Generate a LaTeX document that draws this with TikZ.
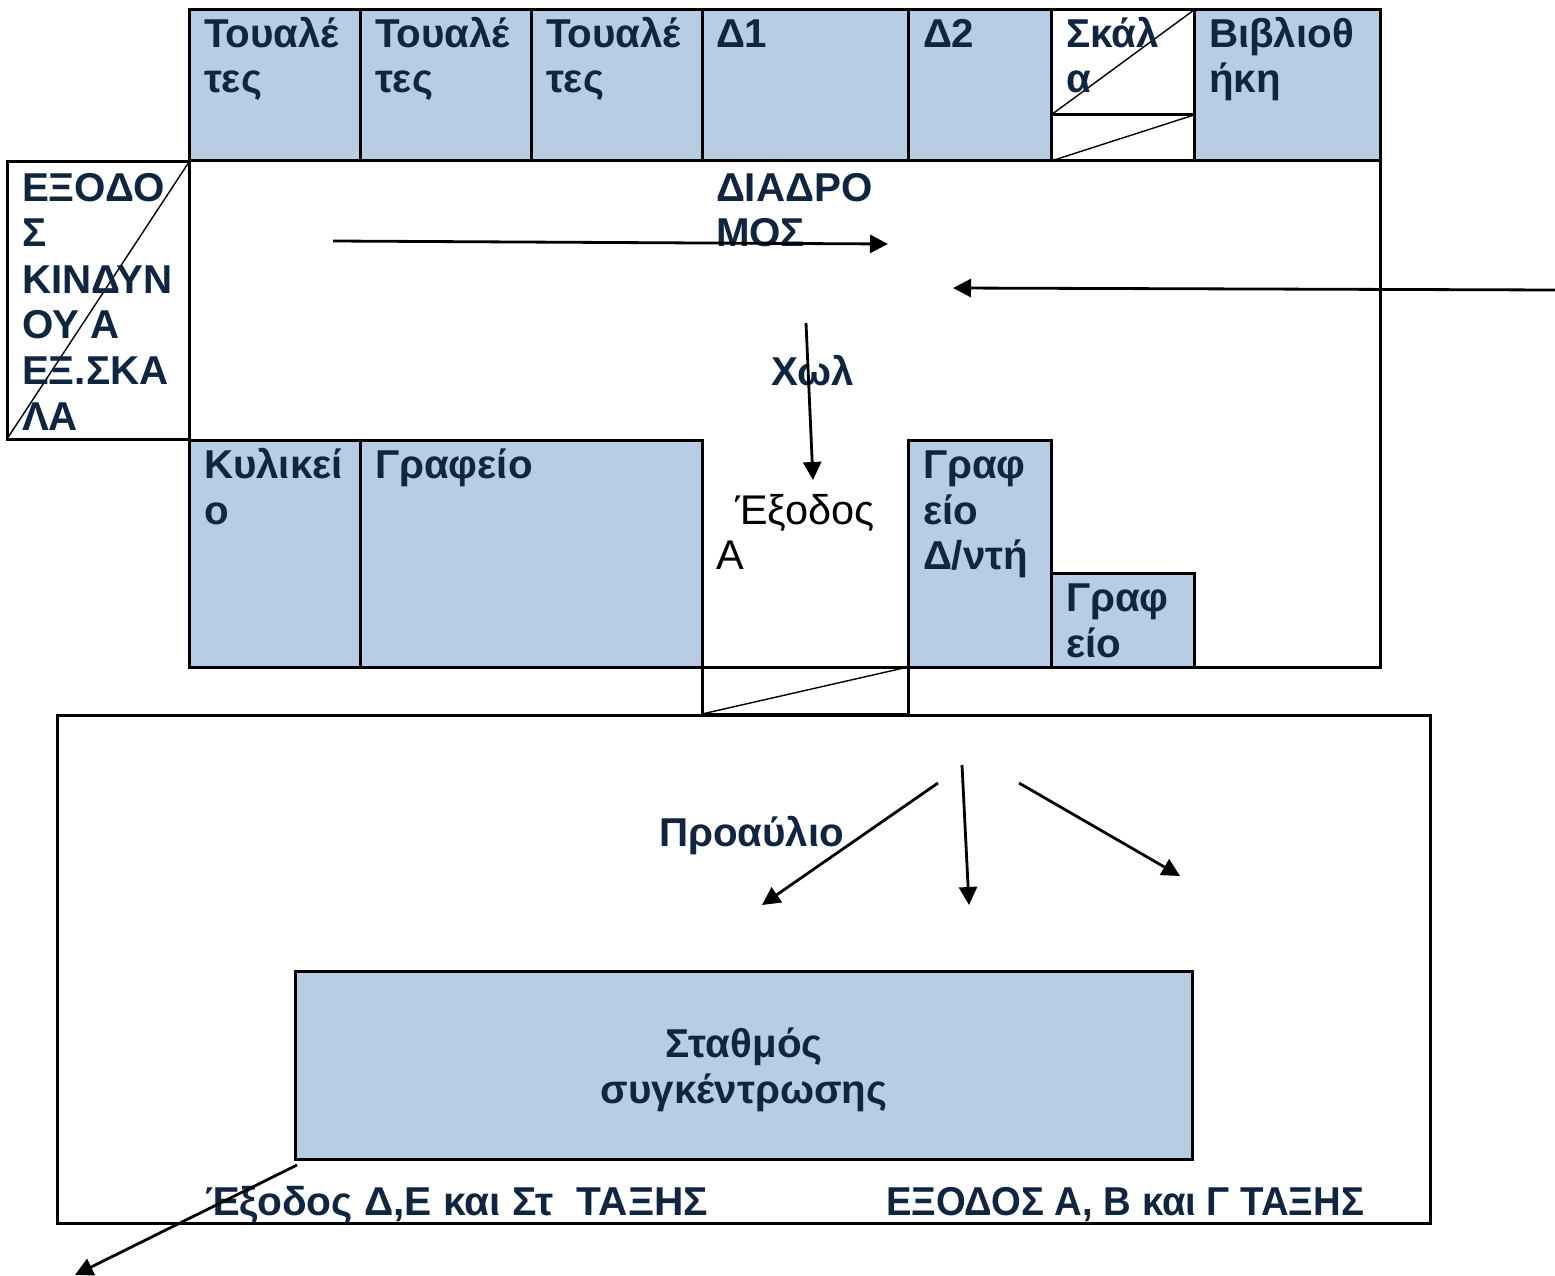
\documentclass[tikz,border=0pt]{standalone}
\usepackage{graphicx}
\usepackage{fontspec}
\setmainfont{Liberation Sans}
\usetikzlibrary{arrows.meta}
\definecolor{roomblue}{HTML}{B8CCE4}
\definecolor{navy}{HTML}{10253F}
\tikzset{
  room/.style={draw=black,line width=3pt,fill=roomblue},
  blank/.style={draw=black,line width=3pt},
  diag/.style={draw=black,line width=1.4pt},
  lbl/.style={anchor=base west,inner sep=0pt,outer sep=0pt,yshift=-1pt,text=navy,font=\fontsize{40.3}{40.3}\selectfont\bfseries},
  plain/.style={anchor=base west,inner sep=0pt,outer sep=0pt,yshift=-1pt,text=black,font=\fontsize{41.5}{41.5}\selectfont},
  arr/.style={draw=black,line width=2.8pt,-{Triangle[length=18pt,width=18pt]}},
}
\begin{document}
\begin{tikzpicture}[x=1pt,y=-1pt]
\useasboundingbox (0,0) rectangle (1555,1276);
% top rooms
\draw[room] (189,10) rectangle (360,161);
\draw[room] (360,10) rectangle (531,161);
\draw[room] (531,10) rectangle (702,161);
\draw[room] (702,10) rectangle (908,161);
\draw[room] (908,10) rectangle (1051,161);
\draw[blank] (1051,10) rectangle (1194,115);
\draw[blank] (1051,115) rectangle (1194,161);
\draw[room] (1194,10) rectangle (1380,161);
\draw[diag] (1051,115) -- (1194,10);
\draw[diag] (1051,161) -- (1194,115);
% corridor outline
\draw[blank] (189,161) -- (1380,161) -- (1380,667) -- (1194,667);
% emergency exit
\draw[blank] (7,162) rectangle (189,439);
\draw[diag] (7,439) -- (189,162);
% lower rooms
\draw[room] (189,440) rectangle (360,667);
\draw[room] (360,440) rectangle (702,667);
\draw[room] (908,440) rectangle (1051,667);
\draw[room] (1051,573) rectangle (1194,667);
% entrance
\draw[blank] (702,667) rectangle (908,714);
\draw[diag] (702,714) -- (908,667);
% courtyard
\draw[blank] (57,715) rectangle (1430,1223);
\draw[room] (295,971) rectangle (1192,1159);
% labels
\node[lbl] (t1a) at (204,47) {Τουαλέ};
\node[lbl] (t1b) at (204,92) {τες};
\node[lbl] (t2a) at (375,47) {Τουαλέ};
\node[lbl] (t2b) at (375,92) {τες};
\node[lbl] (t3a) at (546,47) {Τουαλέ};
\node[lbl] (t3b) at (546,92) {τες};
\node[lbl] (d1) at (716,47) {Δ1};
\node[lbl] (d2) at (923,47) {Δ2};
\node[lbl] (ska) at (1066,47) {Σκάλ};
\node[lbl] (skb) at (1066,92) {α};
\node[lbl] (ba) at (1209,47) {Βιβλιοθ};
\node[lbl] (bb) at (1209,92) {ήκη};
\node[lbl] (e1) at (22,200) {ΕΞΟΔΟ};
\node[lbl] (e2) at (22,245) {Σ};
\node[lbl] (e3) at (22,292) {ΚΙΝΔΥΝ};
\node[lbl] (e4) at (22,337) {ΟΥ Α};
\node[lbl] (e5) at (22,383) {ΕΞ.ΣΚΑ};
\node[lbl] (e6) at (22,429) {ΛΑ};
\node[lbl] (c1) at (716,200) {ΔΙΑΔΡΟ};
\node[lbl] (c2) at (716,245) {ΜΟΣ};
\node[lbl] (hall) at (771,384) {Χωλ};
\node[lbl] (k1) at (204,477) {Κυλικεί};
\node[lbl] (k2) at (204,523) {ο};
\node[lbl] (g) at (375,477) {Γραφείο};
\node[plain] (x1) at (735,523) {Έξοδος};
\node[plain] (x2) at (716,568) {Α};
\node[lbl] (gd1) at (923,477) {Γραφ};
\node[lbl] (gd2) at (923,523) {είο};
\node[lbl] (gd3) at (923,568) {Δ/ντή};
\node[lbl] (gs1) at (1066,610) {Γραφ};
\node[lbl] (gs2) at (1066,656) {είο};
\node[lbl] (pro) at (659,845) {Προαύλιο};
\node[lbl,anchor=base] (st1) at (744,1056) {Σταθμός};
\node[lbl,anchor=base] (st2) at (744,1102) {συγκέντρωσης};
\node[lbl] (ex1) at (205,1214) {\scalebox{1.01}[1]{Έξοδος Δ,Ε και Στ\ \ ΤΑΞΗΣ}};
\node[lbl] (ex2) at (886,1214) {\scalebox{0.95}[1]{ΕΞΟΔΟΣ Α, Β και Γ ΤΑΞΗΣ}};
% arrows
\coordinate (a1s) at (333,241); \coordinate (a1e) at (888,244);
\coordinate (a2s) at (1555,290); \coordinate (a2e) at (953,288);
\coordinate (a3s) at (806,323); \coordinate (a3e) at (813,480);
\coordinate (a4s) at (938,783); \coordinate (a4e) at (762,905);
\coordinate (a5s) at (962,765); \coordinate (a5e) at (969,905);
\coordinate (a6s) at (1019,783); \coordinate (a6e) at (1180,876);
\coordinate (a7s) at (297,1165); \coordinate (a7e) at (75,1275);
\draw[arr] (a1s) -- (a1e);
\draw[arr] (a2s) -- (a2e);
\draw[arr] (a3s) -- (a3e);
\draw[arr] (a4s) -- (a4e);
\draw[arr] (a5s) -- (a5e);
\draw[arr] (a6s) -- (a6e);
\draw[arr] (a7s) -- (a7e);
\end{tikzpicture}
\end{document}
